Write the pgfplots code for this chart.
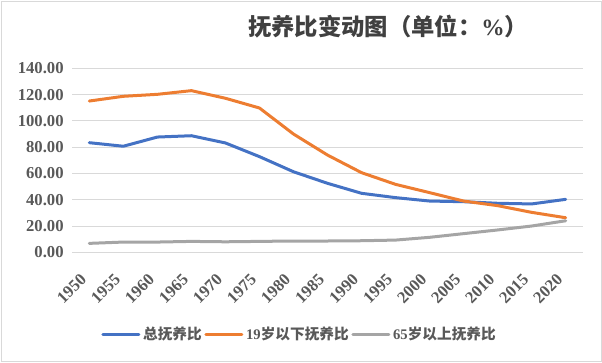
\documentclass[border=0pt]{standalone}
\usepackage{fontspec}
\setmainfont{Liberation Serif}
\newfontfamily\cjk{Noto Sans CJK SC}
\usepackage{pgfplots}
\pgfplotsset{compat=1.18}
\definecolor{cblue}{HTML}{4472C4}
\definecolor{corange}{HTML}{ED7D31}
\definecolor{cgray}{HTML}{A5A5A5}
\definecolor{cgrid}{HTML}{D9D9D9}
\definecolor{ctext}{HTML}{595959}
\definecolor{ctitle}{HTML}{404040}
\begin{document}
\begin{tikzpicture}[x=0.75pt,y=0.75pt]
\useasboundingbox (0,0) rectangle (602,362);
\draw[cgrid, line width=0.75pt] (1,1) rectangle (601,361);
\node[text=ctitle, font=\cjk\bfseries\fontsize{17.5}{20}\selectfont] at (388,335) {抚养比变动图（单位：{\rmfamily\%}）};
\begin{axis}[
  at={(54.225pt,82.275pt)}, anchor=south west,
  scale only axis, width=382.8pt, height=138pt,
  xmin=1947.5, xmax=2022.5, ymin=0, ymax=140,
  xtick={1950,1955,...,2020},
  ytick={0,20,...,140},
  ymajorgrids, grid style={cgrid, line width=0.75pt},
  axis line style={draw=none},
  major tick length=0pt,
  /pgf/number format/assume math mode=true,
  xticklabel style={/pgf/number format/1000 sep={}, xshift=-7.5pt, yshift=-10.5pt, rotate=45, anchor=north east, font=\bfseries\fontsize{12.5}{13}\selectfont, text=ctext},
  yticklabel style={/pgf/number format/fixed, /pgf/number format/precision=2, /pgf/number format/fixed zerofill, font=\bfseries\fontsize{12.5}{13}\selectfont, text=ctext, xshift=-3pt},
  every axis plot/.append style={line width=2.25pt, line join=round, line cap=round},
  legend columns=3,
  legend style={at={(0.446,-0.444)}, anchor=center, draw=none, fill=none, font=\bfseries\fontsize{11}{12}\selectfont, text=ctext, /tikz/every even column/.append style={column sep=0pt}},
  legend image code/.code={\draw[#1, line cap=round] (0pt,0pt) -- (27pt,0pt);},
]
\addplot[cblue] coordinates {
(1950,83.4) (1955,80.7) (1960,87.7) (1965,88.7) (1970,83.2) (1975,72.8) (1980,61.3) (1985,52.5) (1990,44.9) (1995,41.6) (2000,39.0) (2005,38.5) (2010,37.3) (2015,36.8) (2020,40.3)};
\addlegendentry{\cjk 总抚养比}
\addplot[corange] coordinates {
(1950,115.1) (1955,118.7) (1960,120.2) (1965,123.0) (1970,117.2) (1975,109.8) (1980,90.0) (1985,74.0) (1990,60.6) (1995,51.7) (2000,45.4) (2005,39.0) (2010,35.5) (2015,30.4) (2020,26.3)};
\addlegendentry{19{\cjk 岁以下抚养比}}
\addplot[cgray] coordinates {
(1950,6.8) (1955,7.8) (1960,7.8) (1965,8.3) (1970,8.0) (1975,8.3) (1980,8.6) (1985,8.6) (1990,8.8) (1995,9.3) (2000,11.4) (2005,14.2) (2010,17.0) (2015,20.0) (2020,24.0)};
\addlegendentry{65{\cjk 岁以上抚养比}}
\end{axis}
\end{tikzpicture}
\end{document}
